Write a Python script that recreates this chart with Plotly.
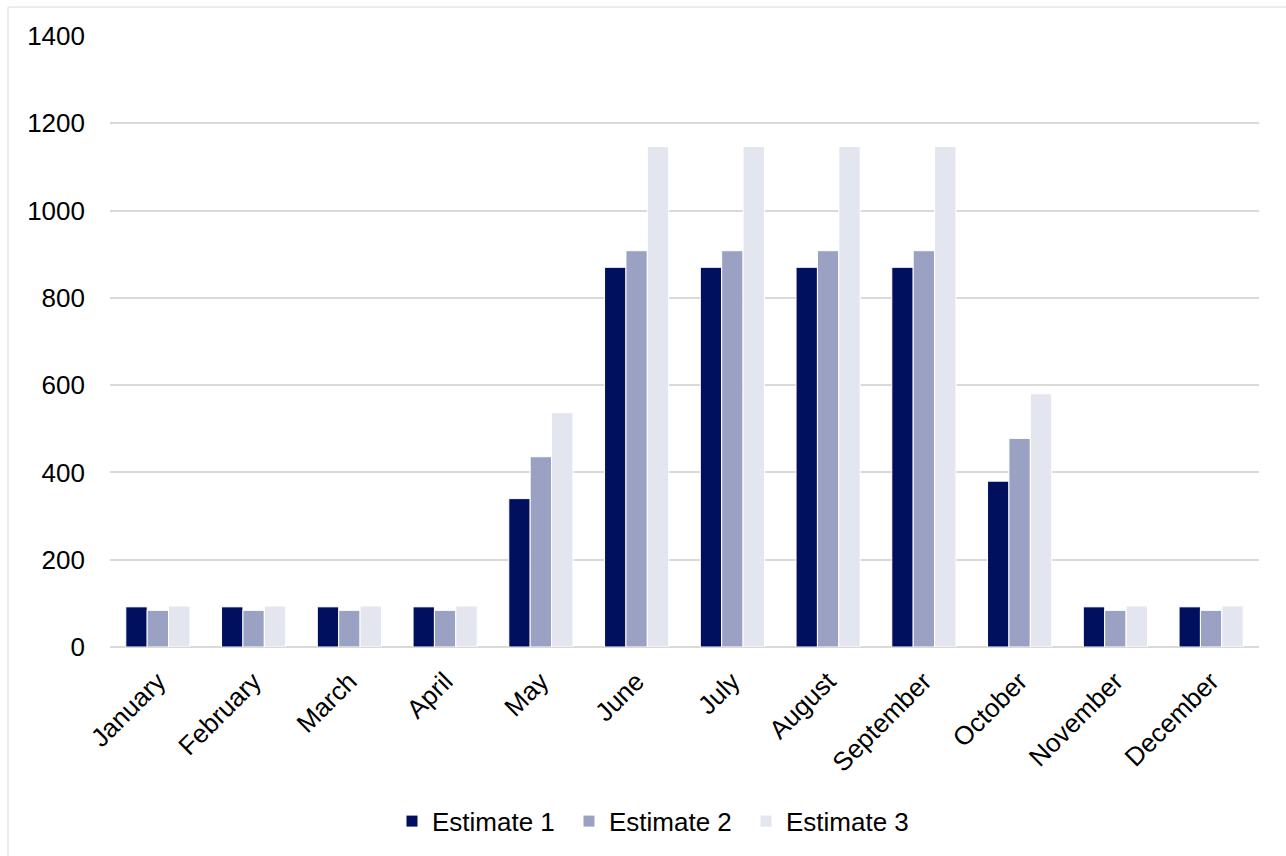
import plotly.graph_objects as go

months = ["January", "February", "March", "April", "May", "June", "July",
          "August", "September", "October", "November", "December"]
estimate_1 = [92, 92, 92, 92, 340, 870, 870, 870, 870, 380, 92, 92]
estimate_2 = [84, 84, 84, 84, 436, 908, 908, 908, 908, 478, 84, 84]
estimate_3 = [94, 94, 94, 94, 537, 1147, 1147, 1147, 1147, 580, 94, 94]

series = [
    ("Estimate 1", estimate_1, "#000F5E"),
    ("Estimate 2", estimate_2, "#9BA1C3"),
    ("Estimate 3", estimate_3, "#E3E6EF"),
]

FONT = "Liberation Sans, Arial, Helvetica, sans-serif"
SIZE = 26

fig = go.Figure()
for name, vals, color in series:
    fig.add_trace(go.Bar(
        name=name, x=months, y=vals,
        marker=dict(color=color, line=dict(color="white", width=1)),
    ))

fig.update_layout(
    width=1286, height=856,
    barmode="group", bargap=0.33, bargroupgap=0.0,
    paper_bgcolor="white", plot_bgcolor="white",
    margin=dict(l=110, r=27, t=36, b=208),
    font=dict(family=FONT, size=SIZE, color="#000000"),
    legend=dict(orientation="h", x=0.4765, xanchor="center", y=-0.283, yanchor="middle",
                font=dict(size=SIZE), itemwidth=30, traceorder="normal",
                entrywidth=132, entrywidthmode="pixels"),
    showlegend=True,
)
fig.update_xaxes(tickangle=-45, showgrid=False, showline=False, ticks="",
                 ticklabelstandoff=13, tickfont=dict(size=SIZE))
fig.update_yaxes(range=[0, 1400], dtick=200, showgrid=True, gridcolor="#D9D9D9",
                 gridwidth=1.5, zeroline=True, zerolinecolor="#D9D9D9", zerolinewidth=2,
                 showline=False, ticks="", ticklabelstandoff=24, tickfont=dict(size=SIZE))

# light frame around the chart
fig.add_shape(type="rect", xref="paper", yref="paper",
              x0=(8 - 110) / 1149, x1=1.1, y0=-0.6, y1=1 + (36 - 7) / 612,
              line=dict(color="#D9D9D9", width=1), fillcolor="rgba(0,0,0,0)", layer="below")

fig.write_html("out.html")
